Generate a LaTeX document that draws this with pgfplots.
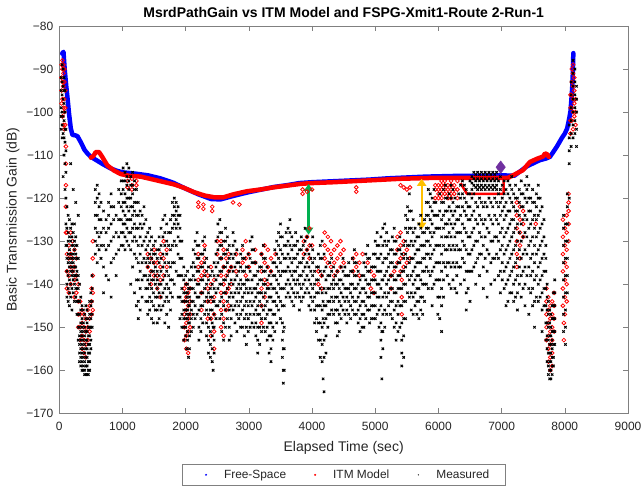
\documentclass[border=0pt]{standalone}
\usepackage{fontspec}
\setmainfont{Liberation Sans}
\usepackage{pgfplots}
\usepackage{pgfplotstable}
\pgfplotsset{compat=1.18}
\usetikzlibrary{arrows.meta}
\definecolor{arrgreen}{HTML}{00B050}
\definecolor{arrorange}{HTML}{FFC000}
\definecolor{mkpurple}{HTML}{7030A0}

\pgfplotstableread{
x y
45 -86.4
66 -86
87 -90.4
110 -94
129 -96.6
155 -100.5
182 -103.8
208 -105.3
250 -105.4
287 -105.6
340 -107
400 -108.8
450 -109.7
500 -110.4
600 -111.3
700 -112.2
800 -113
900 -113.6
1000 -114
1200 -114.3
1400 -114.7
1600 -115.4
1800 -116.4
2000 -117.8
2200 -119.1
2400 -120.2
2550 -120.3
2750 -119.5
3000 -118.6
3200 -118
3400 -117.4
3600 -117
3800 -116.5
4000 -116.3
4300 -116.1
4600 -115.9
4900 -115.7
5200 -115.4
5500 -115.2
5800 -115
6100 -114.9
6400 -114.8
6700 -114.8
7000 -114.7
7200 -114.8
7400 -112.6
7600 -111.2
7700 -110.8
7765 -110.4
7871 -108.1
7950 -106.1
8000 -105
8037 -103.8
8070 -101.5
8090 -99.8
8110 -96
8123 -92.8
8130 -89
8135 -86.3
}\fspg

\pgfplotstableread{
x y
500 -110.6
540 -110.2
577 -109.3
630 -109.3
683 -110.5
761 -112.4
867 -113.6
972 -114.4
1100 -114.8
1288 -115
1551 -115.9
1814 -116.8
1972 -117.6
2130 -118.6
2300 -119.4
2450 -119.8
2600 -119.8
2760 -119.1
2970 -118.4
3180 -118
3390 -117.5
3600 -117.1
3810 -116.7
4000 -116.5
4340 -116.3
4870 -115.9
5400 -115.5
5900 -115.3
6300 -115.3
6700 -115.3
7030 -115.3
7100 -115.3
7180 -114.7
7337 -113.5
7448 -111.6
7553 -110.9
7660 -110.3
7686 -109.6
7720 -109.8
7745 -110.4
}\itmline

\pgfplotstableread{
x y
6350 -116.5
6450 -119
7030 -119
7030 -115.5
}\itmlow

\pgfplotstableread{
x a b c d e f
35 -89 -92 -95 -98 nan nan
50 -88 -90 -93 -97 -101 nan
65 -89 -91 -94 -99 -103 nan
80 -90 -93 -97 -100 -104 nan
95 -95 -99 -103 nan nan nan
105 -108 -112 -117 -122 -128 nan
120 -128 -133 -137 -141 nan nan
150 -131 -134 -138 -142 nan nan
180 -128 -133 -136 -140 nan nan
210 -130 -134 -137 nan nan nan
240 -132 -136 -139 -143 nan nan
270 -134 -138 -142 nan nan nan
300 -140 -144 -147 -150 nan nan
330 -144 -147 -150 -153 nan nan
360 -146 -149 -152 -155 nan nan
390 -147 -150 -153 -156 nan nan
420 -148 -151 -154 -157 nan nan
450 -146 -150 -153 nan nan nan
480 -145 -148 -151 nan nan nan
510 -141 -144 -147 nan nan nan
530 -130 -134 -138 -142 -146 nan
1080 -116 -117.5 nan nan nan nan
1150 -115.5 -117 -118 nan nan nan
1220 -116 -117 nan nan nan nan
1400 -133 -136 nan nan nan nan
1450 -134 -137 -140 nan nan nan
1500 -132 -135 -138 nan nan nan
1550 -135 -138 -141 nan nan nan
1600 -133 -136 -139 -143 nan nan
1650 -130 -134 -138 nan nan nan
1700 -132 -136 nan nan nan nan
1980 -141 -144 -147 -150 -153 nan
2010 -140 -143 -146 -149 -152 -155
2040 -142 -145 -148 -151 -156 nan
2070 -141 -144 -147 -150 nan nan
2200 -121 -122 -133 -136 -139 nan
2250 -135 -138 -142 -146 nan nan
2280 -121.5 -122.5 nan nan nan nan
2300 -131 -134 -137 nan nan nan
2350 -138 -141 -144 -148 nan nan
2400 -136 -140 -144 -148 -152 nan
2420 -122 -123 nan nan nan nan
2450 -139 -143 -147 -151 -155 nan
2500 -130 -133 nan nan nan nan
2560 -130 -134 -138 -142 -146 -150
2600 -132 -136 -140 -144 -148 -152
2640 -134 -138 -142 -146 nan nan
2680 -133 -137 -141 -145 nan nan
2720 -136 -140 nan nan nan nan
2750 -121 nan nan nan nan nan
2800 -133 -137 nan nan nan nan
2850 -121.5 nan nan nan nan nan
2900 -132 -135 nan nan nan nan
2950 -130 -134 -138 nan nan nan
3000 -133 -136 nan nan nan nan
3100 -132 -135 nan nan nan nan
3200 -133 -137 -141 -145 -149 nan
3250 -131 -135 -139 -143 nan nan
3300 -132 -136 -140 nan nan nan
3350 -134 -137 nan nan nan nan
3420 -133 nan nan nan nan nan
3850 -118 -119 nan nan nan nan
3870 -130 -133 nan nan nan nan
3920 -129 -132 -118.5 nan nan nan
3960 -127 -131 -134 nan nan nan
4000 -131 -118 nan nan nan nan
4100 -137 -140 nan nan nan nan
4150 -138 -141 nan nan nan nan
4200 -128 -131 -134 nan nan nan
4250 -129 -132 -135 nan nan nan
4300 -130 -133 -136 nan nan nan
4350 -132 -135 -138 nan nan nan
4400 -131 -134 -137 nan nan nan
4450 -130 -133 -136 nan nan nan
4500 -132 -135 nan nan nan nan
4650 -134 -137 nan nan nan nan
4700 -133 -136 -117.5 -118.5 nan nan
4750 -135 -138 nan nan nan nan
4800 -133 nan nan nan nan nan
4880 -135 nan nan nan nan nan
4930 -137 -141 nan nan nan nan
4980 -138 -142 nan nan nan nan
5250 -138 -141 nan nan nan nan
5300 -137 nan nan nan nan nan
5350 -129 -132 -135 nan nan nan
5400 -128 -131 -134 -137 -117 nan
5420 -139 -143 -147 nan nan nan
5450 -130 -133 -136 -117.5 nan nan
5500 -132 -135 -118 nan nan nan
5550 -134 -117.5 nan nan nan nan
5950 -117 -118 -120 nan nan nan
6000 -117 -118 -119 -120 nan nan
6050 -116 -117 -118 -119 -120 nan
6100 -116 -117 -118 -119 nan nan
6150 -117 -118 -119 -120 nan nan
6200 -116 -117 -118 -119 -120 nan
6250 -117 -118 -119 nan nan nan
6300 -116 -118 -120 nan nan nan
7240 -121 -124 -127 -130 -133 -136
7290 -122 -125 -128 -131 -134 nan
7340 -123 -126 -129 nan nan nan
7540 -126 nan nan nan nan nan
7710 -141 -144 -147 -150 -153 nan
7740 -143 -146 -149 -152 -155 -158
7770 -145 -148 -151 -154 -157 -160
7800 -144 -147 -150 -153 -156 -159
7830 -142 -145 -148 -151 nan nan
7970 -125 -129 -133 -137 -141 -145
7985 -149 -153 nan nan nan nan
8000 -127 -131 -135 -139 -143 -147
8030 -124 -128 -132 -136 -140 -144
8060 -119 -121 -123 -126 -130 nan
8090 -96 -99 -102 -105 nan nan
8110 -90 -93 -96 -99 -102 nan
8130 -89 -91 -94 -97 -100 -104
8150 -92 -95 -98 -101 nan nan
8170 -97 -100 -103 nan nan nan
}\itmpts

\pgfplotstableread{
x a b c d e f g h
30 -92 -95 -99 -101 -104 nan nan nan
45 -89 -93 -96 -100 -103 -106 nan nan
60 -90 -94 -97 -101 -105 -115 nan nan
75 -92 -95 -98 -102 -106 -110 nan nan
90 -95 -100 -104 -107 -112 -118 nan nan
105 -104 -109 -114 -120 -126 -131 nan nan
120 -122 -127 -131 -134 -137 -140 -143 nan
140 -124 -128 -130 -133 -135 -138 -141 -144
160 -125 -129 -132 -134 -136 -139 -142 -145
180 -127 -130 -133 -135 -137 -140 -143 -112
200 -126 -129 -131 -134 -136 -138 -141 -146
220 -128 -131 -133 -135 -137 -139 -142 -118
240 -126 -130 -132 -134 -136 -138 -140 -144
260 -129 -131 -133 -136 -138 -141 -143 -121
280 -131 -134 -137 -139 -141 -144 -147 nan
300 -134 -138 -141 -144 -147 -150 -153 -124
320 -140 -144 -147 -150 -152 -154 -156 -158
340 -143 -146 -149 -151 -153 -155 -157 -159
360 -145 -148 -150 -152 -154 -156 -158 -160
380 -146 -149 -151 -153 -155 -157 -159 -160
400 -147 -150 -152 -154 -156 -158 -160 -161
420 -145 -148 -151 -153 -155 -157 -159 -161
440 -146 -149 -151 -153 -155 -157 -159 -161
460 -148 -150 -152 -154 -156 -158 -160 -161
480 -144 -147 -150 -152 -154 -156 -158 -160
500 -142 -145 -148 -150 -153 -155 nan nan
520 -138 -141 -144 -147 -150 nan nan nan
570 -118 -121 -124 -127 -130 -133 nan nan
600 -117 -120 -124 -128 -131 -135 nan nan
630 -119 -122 -125 -129 -132 nan nan nan
660 -121 -125 -128 -131 -134 nan nan nan
700 -123 -127 -131 -136 -142 nan nan nan
740 -125 -128 -132 -138 nan nan nan nan
780 -121 -124 -127 -131 -139 nan nan nan
820 -119 -122 -126 -130 -135 -143 nan nan
860 -122 -125 -129 -134 nan nan nan nan
900 -124 -128 -133 -138 nan nan nan nan
940 -118 -121 -125 -129 -132 nan nan nan
980 -116 -119 -122 -125 -128 -131 nan nan
1010 -113 -116 -118 -121 -123 -126 -128 -131
1040 -114 -116 -119 -121 -124 -126 -129 -132
1070 -112 -115 -117 -120 -122 -125 -127 -130
1100 -113 -116 -118 -120 -123 -125 -128 -131
1130 -115 -117 -120 -122 -125 -128 -132 -140
1160 -114 -117 -119 -122 -124 -127 -130 -136
1190 -116 -118 -121 -123 -126 -129 -133 -142
1220 -118 -121 -124 -127 -130 -134 -139 -145
1250 -121 -124 -127 -131 -135 -139 -144 -148
1280 -123 -126 -129 -133 -137 -141 -146 nan
1310 -124 -127 -131 -135 -139 -143 nan nan
1340 -122 -126 -130 -134 -138 nan nan nan
1370 -125 -129 -132 -135 -138 -141 -144 nan
1400 -128 -131 -134 -136 -139 -141 -144 -147
1430 -127 -130 -133 -135 -138 -140 -143 -146
1460 -129 -132 -134 -137 -139 -141 -144 -148
1490 -131 -133 -135 -137 -139 -142 -145 -149
1520 -130 -133 -136 -138 -140 -143 -146 nan
1550 -132 -134 -137 -139 -141 -143 -146 -149
1580 -129 -132 -135 -138 -140 -142 -145 -148
1610 -127 -131 -134 -137 -140 -143 -146 nan
1640 -125 -129 -133 -136 -139 -142 -145 nan
1670 -124 -128 -131 -135 -138 -141 -144 -149
1700 -126 -130 -133 -137 -140 -143 -147 nan
1730 -128 -131 -135 -138 -141 -144 -150 nan
1760 -125 -128 -132 -136 -139 -142 -146 nan
1790 -121 -124 -127 -131 -135 -139 -143 nan
1820 -120 -122 -124 -126 -130 -135 -140 nan
1850 -121 -123 -125 -127 -131 -137 nan nan
1880 -122 -124 -126 -129 -133 -138 -143 nan
1910 -124 -127 -130 -134 -138 -143 -148 nan
1940 -130 -134 -138 -141 -144 -147 -150 nan
1970 -136 -139 -142 -144 -146 -148 -150 -153
2000 -138 -140 -142 -144 -146 -148 -150 -152
2015 -155 -143 -147 nan nan nan nan nan
2030 -137 -140 -142 -144 -146 -148 -151 -153
2045 -157 -141 -145 -149 nan nan nan nan
2060 -139 -141 -143 -145 -147 -149 -152 -155
2090 -136 -139 -141 -144 -146 -148 -151 nan
2120 -132 -135 -138 -141 -144 -147 -150 nan
2150 -130 -133 -136 -139 -142 -145 -148 nan
2180 -128 -131 -134 -137 -140 -143 -147 nan
2210 -131 -134 -137 -140 -143 -146 -150 -153
2240 -133 -136 -139 -142 -145 -148 -151 nan
2270 -130 -133 -136 -139 -142 -145 -149 nan
2300 -129 -132 -135 -138 -141 -144 -147 nan
2330 -134 -137 -140 -143 -146 -149 -152 nan
2360 -136 -139 -142 -144 -147 -150 -153 -156
2390 -138 -141 -143 -146 -148 -151 -154 -157
2420 -137 -140 -143 -146 -149 -152 -155 -158
2435 -160 -144 -150 nan nan nan nan nan
2450 -135 -138 -141 -144 -147 -150 -153 -156
2480 -130 -133 -136 -139 -142 -145 -148 nan
2510 -126 -129 -132 -135 -138 -141 -145 nan
2540 -125 -128 -131 -134 -137 -140 -144 -148
2570 -128 -131 -134 -137 -140 -143 -147 -151
2600 -130 -133 -136 -139 -142 -145 -149 -153
2630 -127 -130 -133 -136 -139 -142 -146 -150
2660 -129 -132 -135 -138 -141 -144 -148 nan
2690 -131 -134 -137 -140 -143 -146 -150 -153
2720 -133 -136 -139 -142 -145 -148 -152 nan
2750 -128 -131 -134 -137 -140 -143 -146 nan
2780 -130 -133 -136 -139 -142 -145 -149 nan
2810 -132 -135 -138 -141 -144 -147 -151 nan
2840 -135 -137 -140 -142 -145 -148 nan nan
2870 -133 -136 -139 -141 -144 -147 -150 nan
2900 -131 -134 -137 -140 -143 -146 -150 nan
2930 -134 -137 -140 -142 -145 -148 -152 nan
2960 -136 -139 -141 -144 -147 -150 -154 nan
2990 -133 -136 -139 -142 -145 -148 -151 nan
3020 -130 -134 -137 -141 -144 -147 -150 nan
3050 -129 -132 -135 -139 -142 -145 -149 nan
3080 -132 -135 -138 -141 -144 -147 -150 nan
3110 -135 -138 -141 -143 -146 -149 -152 nan
3140 -137 -140 -142 -145 -147 -150 -153 -156
3170 -136 -139 -142 -144 -147 -150 -154 nan
3200 -133 -136 -139 -142 -145 -148 -151 nan
3230 -131 -134 -137 -140 -143 -146 -150 nan
3260 -134 -137 -140 -142 -145 -148 -151 nan
3290 -136 -139 -141 -144 -147 -150 -153 nan
3320 -138 -141 -143 -146 -149 -152 -156 nan
3350 -137 -140 -143 -146 -149 -152 -155 -158
3380 -135 -138 -141 -144 -147 -150 -153 nan
3410 -132 -135 -138 -141 -144 -147 -151 nan
3440 -130 -133 -136 -139 -142 -145 -149 nan
3470 -128 -131 -134 -137 -140 -143 -146 nan
3500 -126 -129 -132 -135 -138 -141 -144 -148
3530 -129 -133 -137 -141 -145 -149 -153 -157
3545 -160 -163 -151 -155 nan nan nan nan
3560 -131 -134 -137 -141 -145 -150 -155 -160
3590 -128 -131 -134 -137 -140 -143 nan nan
3620 -127 -130 -133 -136 -139 -142 nan nan
3650 -125 -128 -131 -134 -137 -140 -143 nan
3680 -129 -132 -135 -138 -141 -144 nan nan
3710 -131 -134 -137 -139 -142 -145 nan nan
3740 -128 -131 -134 -137 -140 -143 nan nan
3770 -130 -133 -136 -139 -142 nan nan nan
3800 -132 -135 -138 -140 -143 -146 nan nan
3830 -129 -132 -135 -138 -141 -144 nan nan
3860 -131 -134 -137 -140 -143 nan nan nan
3890 -127 -130 -133 -136 -139 -142 nan nan
3920 -129 -132 -135 -138 -141 nan nan nan
3950 -133 -136 -139 -142 -145 nan nan nan
3980 -131 -134 -137 -140 -143 -146 nan nan
4010 -129 -132 -135 -138 -141 -144 nan nan
4040 -134 -137 -140 -143 -146 -149 nan nan
4070 -136 -139 -142 -145 -148 -151 nan nan
4100 -133 -136 -139 -142 -145 -149 -153 nan
4130 -131 -134 -137 -141 -145 -149 -153 -157
4160 -130 -134 -138 -142 -146 -150 -154 -158
4175 -162 -144 -148 nan nan nan nan nan
4190 -133 -137 -141 -145 -149 -153 -157 -165
4220 -136 -139 -142 -145 -148 -152 -156 nan
4250 -138 -141 -144 -147 -150 nan nan nan
4280 -135 -138 -141 -144 -147 nan nan nan
4310 -134 -137 -140 -143 -146 nan nan nan
4340 -136 -139 -141 -144 -147 nan nan nan
4370 -138 -140 -143 -146 -149 nan nan nan
4400 -137 -140 -143 -146 -149 -152 nan nan
4430 -139 -141 -144 -147 -151 nan nan nan
4460 -136 -139 -142 -145 -148 nan nan nan
4490 -134 -137 -140 -143 -146 nan nan nan
4520 -136 -138 -141 -144 -147 nan nan nan
4550 -138 -141 -143 -146 -149 nan nan nan
4580 -135 -138 -141 -144 -147 nan nan nan
4610 -137 -140 -142 -145 -148 nan nan nan
4640 -134 -137 -140 -143 -146 nan nan nan
4670 -132 -135 -138 -141 -144 -147 nan nan
4700 -135 -138 -141 -144 -147 nan nan nan
4730 -137 -140 -143 -146 -149 nan nan nan
4760 -139 -142 -145 -148 -151 nan nan nan
4790 -138 -141 -144 -147 -150 nan nan nan
4820 -135 -138 -141 -144 -147 -150 nan nan
4850 -133 -136 -139 -142 -145 -148 nan nan
4880 -131 -134 -137 -140 -143 -146 nan nan
4910 -134 -137 -140 -143 -146 -149 nan nan
4940 -136 -139 -142 -145 -148 nan nan nan
4970 -133 -136 -139 -142 -145 -148 nan nan
5000 -130 -133 -136 -139 -142 -145 -148 nan
5030 -128 -131 -134 -137 -140 -143 -147 nan
5060 -131 -134 -137 -140 -143 -146 -150 nan
5090 -129 -133 -137 -141 -145 -149 -153 -157
5105 -162 -139 -151 nan nan nan nan nan
5120 -127 -131 -135 -139 -143 -147 -151 -155
5150 -126 -130 -134 -138 -142 -146 -150 nan
5180 -128 -131 -134 -137 -140 -143 -147 nan
5210 -130 -133 -136 -139 -142 -145 nan nan
5240 -132 -135 -138 -141 -144 -147 nan nan
5270 -129 -132 -135 -138 -141 -144 -148 nan
5300 -127 -130 -133 -136 -139 -142 -146 -150
5330 -130 -133 -136 -139 -142 -145 -149 -153
5360 -132 -135 -138 -141 -144 -147 -151 nan
5390 -129 -132 -135 -138 -141 -145 -150 nan
5420 -133 -137 -141 -145 -149 -153 -156 -159
5450 -131 -134 -137 -140 -144 -148 -152 -157
5480 -124 -127 -130 -133 -136 -140 -144 -148
5510 -122 -125 -128 -131 -134 -138 -142 nan
5540 -119 -123 -127 -131 -135 -139 -143 nan
5570 -123 -127 -130 -134 -138 -142 -146 nan
5600 -125 -128 -131 -134 -137 -140 -143 -147
5630 -127 -130 -133 -136 -139 -142 -145 nan
5660 -129 -132 -135 -138 -141 -144 -147 nan
5690 -126 -129 -132 -135 -138 -141 -144 -148
5720 -124 -127 -131 -135 -139 -143 -146 nan
5750 -128 -131 -134 -137 -140 -143 -147 nan
5780 -125 -128 -131 -134 -137 -140 -144 nan
5810 -121 -124 -127 -130 -133 -136 -140 nan
5840 -118 -121 -124 -127 -130 -133 -137 -141
5870 -119 -122 -125 -128 -131 -134 -138 nan
5900 -120 -123 -126 -129 -133 -137 -141 -145
5930 -118 -121 -124 -128 -132 -136 -140 nan
5960 -121 -124 -127 -131 -135 -139 nan nan
5990 -124 -127 -131 -135 -139 -143 -147 nan
6020 -119 -123 -127 -131 -135 -139 -143 -148
6050 -121 -125 -129 -133 -137 -141 -145 -151
6080 -118 -121 -124 -127 -131 -135 -139 -143
6110 -117 -120 -123 -126 -129 -132 -136 nan
6140 -120 -123 -126 -129 -132 -135 -138 nan
6170 -119 -122 -125 -128 -131 -135 -140 nan
6200 -117 -120 -123 -126 -129 -132 -136 -141
6230 -118 -121 -124 -127 -131 -135 -139 nan
6260 -120 -123 -126 -129 -132 -136 -141 nan
6290 -122 -125 -128 -131 -135 -138 -142 nan
6320 -119 -122 -125 -128 -132 -136 nan nan
6350 -117 -120 -124 -128 -132 -136 -140 nan
6380 -116 -119 -122 -126 -130 -134 nan nan
6410 -117 -120 -123 -127 -131 -135 -139 nan
6440 -118 -121 -124 -128 -132 -137 -142 -146
6470 -119 -122 -125 -129 -133 -137 -141 nan
6500 -116 -119 -122 -125 -129 -133 -137 -144
6530 -115 -116.5 -118 -120 -124 -128 -132 -137
6560 -114 -115.5 -117 -119 -123 -127 -131 -136
6590 -114.5 -116 -117.5 -121 -125 -130 -135 -140
6620 -114 -115.5 -117 -118 -122 -126 -130 -134
6650 -114.5 -116 -117.5 -120 -124 -128 -133 -138
6680 -114 -115.5 -117 -118 -121 -125 -129 -133
6710 -114.5 -116 -117.5 -122 -126 -131 -136 -141
6740 -114 -115.5 -117 -118 -121 -125 -129 -134
6770 -114.5 -116 -117.5 -122 -127 -132 -137 -143
6800 -114 -115.5 -117 -118 -120 -124 -128 -133
6830 -114.5 -116 -117.5 -121 -125 -130 -135 -140
6860 -114 -115.5 -117 -118 -122 -126 -130 -134
6890 -114.5 -116 -117.5 -120 -124 -129 -134 -139
6920 -114 -115.5 -117 -118 -121 -125 -129 -133
6950 -116 -119 -122 -126 -130 -134 -138 nan
6980 -115 -118 -121 -124 -128 -132 -137 -142
7010 -117 -120 -123 -127 -131 -135 -139 nan
7040 -116 -119 -122 -125 -129 -133 -137 -141
7070 -118 -121 -124 -128 -132 -136 -140 -145
7100 -116 -119 -123 -127 -131 -135 -139 -144
7130 -117 -120 -123 -126 -130 -134 -138 -142
7160 -115 -118 -121 -125 -129 -133 -137 -142
7190 -119 -122 -125 -128 -132 -136 -140 -144
7220 -117 -120 -123 -127 -131 -135 -139 -143
7250 -120 -123 -126 -130 -134 -138 -142 -146
7280 -118 -121 -124 -128 -132 -136 -140 nan
7310 -116 -119 -122 -126 -130 -134 -138 -143
7340 -119 -122 -125 -129 -133 -137 -141 nan
7370 -117 -120 -124 -128 -132 -136 -140 -145
7400 -115 -118 -121 -125 -129 -133 -138 nan
7430 -117 -120 -123 -127 -131 -136 -141 -147
7460 -120 -123 -126 -130 -134 -138 -142 nan
7490 -118 -121 -125 -129 -133 -137 -141 -145
7520 -121 -124 -127 -131 -135 -139 -144 -150
7550 -119 -122 -125 -129 -133 -138 -143 nan
7580 -117 -120 -124 -128 -132 -136 -140 -144
7610 -120 -123 -127 -131 -135 -139 -143 nan
7640 -122 -126 -130 -134 -138 -142 -146 -151
7670 -125 -129 -133 -137 -141 -145 nan nan
7700 -131 -134 -137 -141 -145 -149 -153 nan
7720 -140 -143 -146 -149 -152 -155 -158 nan
7740 -144 -147 -150 -153 -156 -159 -161 nan
7760 -146 -149 -152 -154 -156 -158 -160 -162
7780 -147 -150 -152 -154 -156 -158 -160 -162
7800 -145 -148 -151 -153 -155 -157 -159 -161
7820 -142 -145 -148 -151 -154 -157 -159 nan
7840 -139 -142 -145 -148 -151 -154 nan nan
7980 -124 -127 -131 -135 -139 -143 -147 -151
8010 -126 -130 -134 -138 -142 -146 -150 -154
8040 -119 -122 -126 -130 -134 -138 -142 nan
8070 -103 -106 -109 -112 -120 nan nan nan
8100 -93 -96 -99 -102 -105 -108 nan nan
8130 -88 -91 -94 -97 -100 -103 -106 nan
8160 -90 -93 -96 -99 -102 -105 nan nan
8185 -94 -97 -100 -104 -108 nan nan nan
}\meas

\begin{document}
\begin{tikzpicture}
\begin{axis}[
  scale only axis,
  width=568.7bp, height=387.3bp,
  xmin=0, xmax=9000, ymin=-170, ymax=-80,
  xtick={0,1000,...,9000}, ytick={-170,-160,...,-80},
  yticklabels={−170,−160,−150,−140,−130,−120,−110,−100,−90,−80},
  tick align=inside, major tick length=5.5bp,
  axis line style={draw=black!50, line width=0.6bp},
  every tick/.style={draw=black!50, line width=0.6bp},
  tick label style={font=\fontsize{12bp}{14bp}\selectfont, text=black!85},
  xticklabel style={yshift=-5bp},
  yticklabel style={xshift=-2.5bp},
  /pgf/number format/assume math mode=true,
  /pgf/number format/1000 sep={},
  xlabel={Elapsed Time (sec)},
  ylabel={Basic Transmission Gain (dB)},
  label style={font=\fontsize{14bp}{16bp}\selectfont, text=black!85},
  xlabel style={yshift=-4bp},
  title={MsrdPathGain vs ITM Model and FSPG-Xmit1-Route 2-Run-1},
  title style={font=\bfseries\fontsize{14bp}{16bp}\selectfont, yshift=-1.5bp},
  legend columns=3,
  legend style={at={(0.5,-0.1309)}, anchor=north, draw=black!50, line width=0.6bp,
    font=\fontsize{11.9bp}{13bp}\selectfont, text=black!85,
    /tikz/every odd column/.append style={column sep=6bp},
    /tikz/every even column/.append style={column sep=17bp},
    inner xsep=14bp, inner ysep=3.5bp},
  unbounded coords=discard,
]
\addlegendimage{legend image code/.code={\path[draw=none,fill=none] (0bp,-2bp) rectangle (20bp,2bp); \fill[blue,draw=none] (10bp,0bp) circle (1.1pt);}}
\addlegendentry{Free-Space}
\addlegendimage{legend image code/.code={\path[draw=none,fill=none] (0bp,-2bp) rectangle (20bp,2bp); \fill[red,draw=none] (10bp,0bp) circle (1.1pt);}}
\addlegendentry{ITM Model}
\addlegendimage{legend image code/.code={\path[draw=none,fill=none] (0bp,-2bp) rectangle (20bp,2bp); \fill[black,draw=none] (10bp,0bp) circle (0.7pt);}}
\addlegendentry{Measured}

\addplot[blue, line width=4.5bp, line join=round, line cap=round, forget plot] table[x=x,y=y] {\fspg};
\addplot[red, line width=4.5bp, line join=round, line cap=round, forget plot] table[x=x,y=y] {\itmline};
\addplot[red, line width=2.5bp, line join=round, forget plot] table[x=x,y=y] {\itmlow};
\pgfplotsinvokeforeach{1,...,6}{
  \addplot[only marks, mark=o, mark size=1.9pt, red, line width=0.8bp, forget plot] table[x index=0, y index=#1] {\itmpts};
}
\pgfplotsinvokeforeach{1,...,8}{
  \addplot[only marks, mark=x, mark size=1.7pt, black, line width=1bp, forget plot] table[x index=0, y index=#1] {\meas};
}
\addplot[arrgreen, line width=2.2bp, {Triangle[length=7bp,width=9bp]}-{Triangle[length=7bp,width=9bp]}, forget plot] coordinates {(3945,-116.7) (3945,-128.5)};
\addplot[arrorange, line width=2.2bp, {Triangle[length=7bp,width=9bp]}-{Triangle[length=7bp,width=9bp]}, forget plot] coordinates {(5735,-115.5) (5735,-127.3)};
\addplot[only marks, mark=diamond*, mark size=6.3bp, mkpurple, forget plot] coordinates {(6985,-112.8)};
\end{axis}
\pgfresetboundingbox
\path[use as bounding box] ([xshift=-59.3bp,yshift=-72.7bp]current axis.south west) rectangle ([xshift=16bp,yshift=26bp]current axis.north east);
\end{tikzpicture}
\end{document}
